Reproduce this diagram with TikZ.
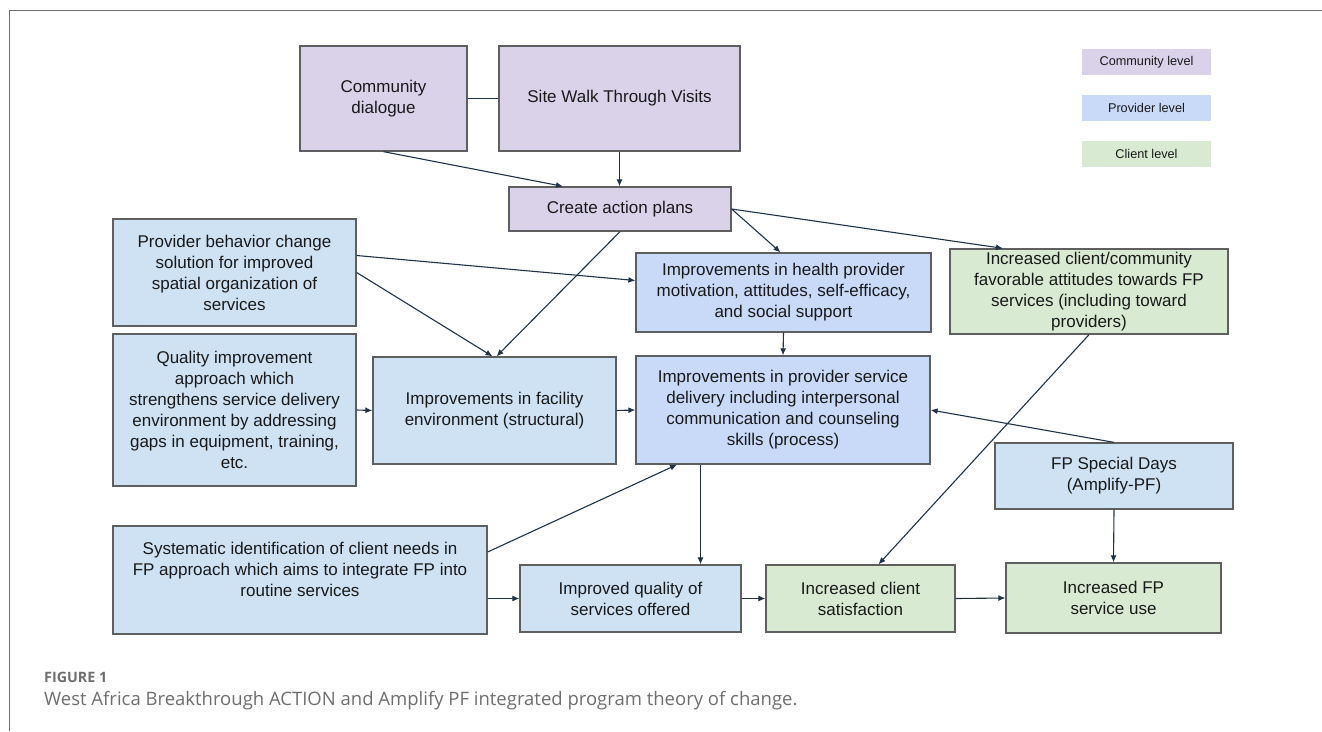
\documentclass[tikz,border=0pt]{standalone}
\usepackage{fontspec}
\setmainfont{Liberation Sans}
\newfontfamily\capfont{Open Sans}
\usetikzlibrary{arrows.meta}
\definecolor{commfill}{HTML}{D9D2E9}
\definecolor{provfill}{HTML}{C9DAF8}
\definecolor{lightfill}{HTML}{CFE2F3}
\definecolor{clientfill}{HTML}{D9EAD3}
\definecolor{boxline}{HTML}{5F5F5F}
\definecolor{arrowline}{HTML}{1F3247}
\definecolor{capgray}{HTML}{6E6E6E}

\begin{document}
\begin{tikzpicture}[x=1pt, y=-1pt, font=\fontsize{17}{21}\selectfont, text=black!90,
    box/.style={draw=boxline, line width=1.3pt, align=center, inner sep=0pt},
    commbox/.style={box, fill=commfill},
    provbox/.style={box, fill=provfill},
    lightbox/.style={box, fill=lightfill},
    clientbox/.style={box, fill=clientfill},
    legendbox/.style={fill=#1, minimum width=129pt, minimum height=26pt, inner sep=0pt, font=\fontsize{12.7}{15}\selectfont},
    plain/.style={draw=arrowline, line width=1.1pt},
    link/.style={plain, -{Latex[length=7pt,width=6pt]}}]
        \useasboundingbox (0,0) rectangle (1322,731);
        \draw[capgray, line width=0.8pt] (9,731) -- (9,10) -- (1322,10);

        \node[commbox, minimum width=167pt, minimum height=105pt] (CommunityDialogue) at (383.5,98.5) {Community\\dialogue};
        \node[commbox, minimum width=241pt, minimum height=105pt] (SiteWalk) at (619.5,98.5) {Site Walk Through Visits};
        \node[commbox, minimum width=222pt, minimum height=44pt] (ActionPlans) at (620,209) {Create action plans};

        \node[lightbox, minimum width=243pt, minimum height=107pt] (BehaviorChange) at (234.5,272.5) {Provider behavior change\\solution for improved\\spatial organization of\\services};
        \node[lightbox, minimum width=243pt, minimum height=152pt] (QualityApproach) at (234.5,410) {Quality improvement\\approach which\\strengthens service delivery\\environment by addressing\\gaps in equipment, training,\\etc.};
        \node[lightbox, minimum width=243pt, minimum height=107pt] (FacilityEnv) at (494.5,410.5) {Improvements in facility\\environment (structural)};
        \node[provbox, minimum width=295pt, minimum height=79pt] (ProviderMotivation) at (783.5,292.5) {Improvements in health provider\\motivation, attitudes, self-efficacy,\\and social support};
        \node[clientbox, minimum width=278pt, minimum height=85pt] (ClientAttitudes) at (1089,291.5) {Increased client/community\\favorable attitudes towards FP\\services (including toward\\providers)};
        \node[provbox, minimum width=294pt, minimum height=108pt] (ServiceDelivery) at (783,410) {Improvements in provider service\\delivery including interpersonal\\communication and counseling\\skills (process)};
        \node[lightbox, minimum width=238pt, minimum height=66pt] (SpecialDays) at (1114,476) {FP Special Days\\(Amplify-PF)};

        \node[lightbox, minimum width=374pt, minimum height=108pt] (ClientNeeds) at (300,580) {Systematic identification of client needs in\\FP approach which aims to integrate FP into\\routine services\\\mbox{}};
        \node[lightbox, minimum width=221pt, minimum height=67pt] (ServiceQuality) at (630.5,598.5) {Improved quality of\\services offered};
        \node[clientbox, minimum width=189pt, minimum height=67pt] (Satisfaction) at (860.5,598.5) {Increased client\\satisfaction};
        \node[clientbox, minimum width=215pt, minimum height=70pt] (ServiceUse) at (1113.5,598) {Increased FP\\service use};

        \node[legendbox=commfill] (CommunityLevel) at (1146.5,62) {Community level};
        \node[legendbox=provfill] (ProviderLevel) at (1146.5,108) {Provider level};
        \node[legendbox=clientfill] (ClientLevel) at (1146.5,154) {Client level};

        \draw[plain] (CommunityDialogue.east) -- (SiteWalk.west);
        \draw[link] (CommunityDialogue.south) -- ([xshift=-57pt]ActionPlans.north);
        \draw[link] (SiteWalk.south) -- (SiteWalk.south |- ActionPlans.north);
        \draw[link] (ActionPlans.east) -- ([xshift=-3pt]ProviderMotivation.north);
        \draw[link] (ActionPlans.east) -- ([xshift=-86pt]ClientAttitudes.north);
        \draw[link] (ActionPlans.south) -- ([xshift=2pt]FacilityEnv.north);
        \draw[link] ([yshift=17pt]BehaviorChange.east) -- ([yshift=12pt]ProviderMotivation.west);
        \draw[link] (BehaviorChange.east) -- ([xshift=-2pt]FacilityEnv.north);
        \draw[link] (QualityApproach.east) -- (FacilityEnv.west);
        \draw[link] (FacilityEnv.east) -- (ServiceDelivery.west);
        \draw[link] (ProviderMotivation.south) -- (ServiceDelivery.north);
        \draw[link] ([yshift=28pt]ClientNeeds.east) -- ([xshift=-106pt]ServiceDelivery.south);
        \draw[link] ([xshift=-82.5pt]ServiceDelivery.south) -- ([xshift=-82.5pt]ServiceDelivery.south |- ServiceQuality.north);
        \draw[link] (ClientNeeds.east |- ServiceQuality.west) -- (ServiceQuality.west);
        \draw[link] (ServiceQuality.east) -- (Satisfaction.west);
        \draw[link] (Satisfaction.east) -- (ServiceUse.west);
        \draw[link] (SpecialDays.north) -- (ServiceDelivery.east);
        \draw[link] (SpecialDays.south) -- (ServiceUse.north);
        \draw[link] (ClientAttitudes.south) -- ([xshift=18pt]Satisfaction.north);

        \node[anchor=base west, inner sep=0pt, text=capgray, font=\capfont\bfseries\fontsize{14.3}{17}\selectfont] (FigLabel) at (44,682) {FIGURE 1};
        \node[anchor=base west, inner sep=0pt, text=capgray, font=\capfont\fontsize{18.5}{22}\selectfont] (FigCaption) at (44,705) {West Africa Breakthrough ACTION and Amplify PF integrated program theory of change.};
    \end{tikzpicture}
\end{document}
